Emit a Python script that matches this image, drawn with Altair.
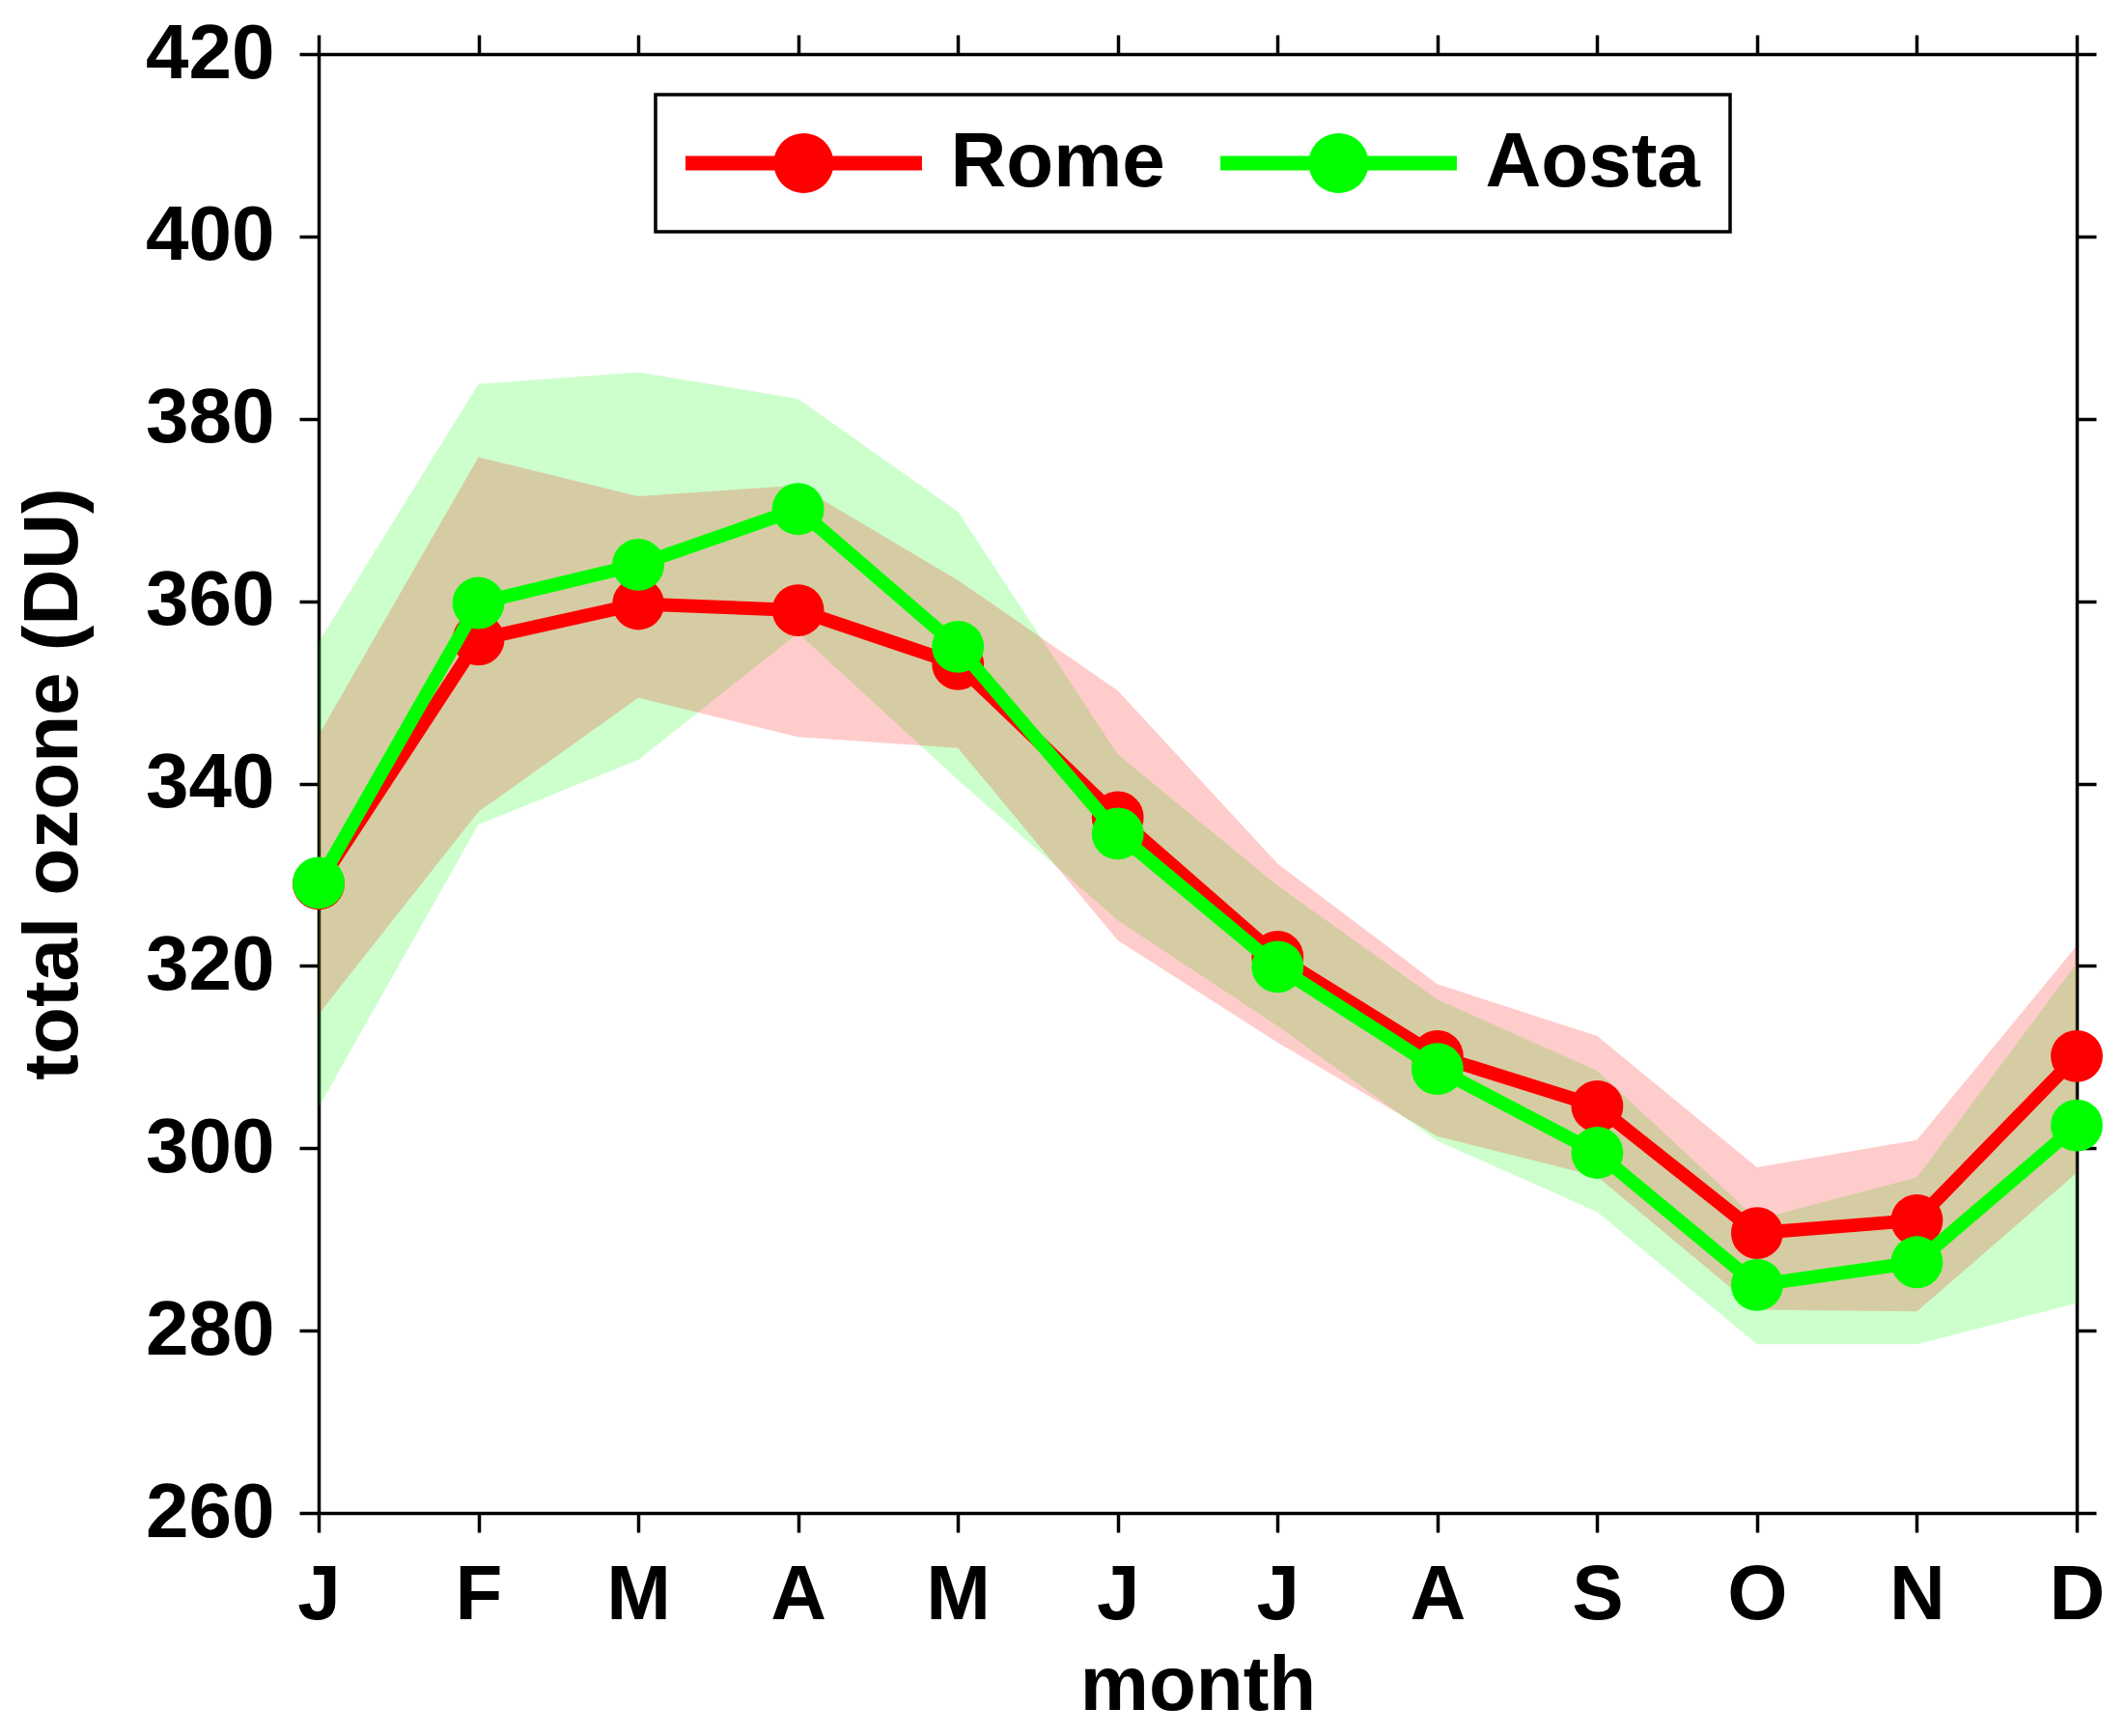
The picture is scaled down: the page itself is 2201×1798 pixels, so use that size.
import altair as alt
import pandas as pd

# ---------------- data ----------------
months = ['J', 'F', 'M', 'A', 'M', 'J', 'J', 'A', 'S', 'O', 'N', 'D']
month_num = list(range(1, 13))

rome_mean = [329.0, 355.8, 359.7, 359.0, 353.1, 336.3, 321.0, 310.1, 304.6, 290.7, 292.1, 310.1]
rome_low = [314.7, 336.9, 349.4, 345.1, 343.9, 322.8, 311.6, 301.3, 296.9, 282.3, 282.1, 297.3]
rome_high = [345.3, 375.8, 371.5, 372.7, 362.3, 350.2, 331.2, 318.0, 312.3, 297.9, 300.9, 322.2]

aosta_mean = [329.1, 359.8, 364.0, 370.1, 355.0, 334.5, 319.9, 308.7, 299.5, 285.0, 287.5, 302.5]
aosta_low = [304.5, 335.5, 342.6, 356.5, 340.4, 325.0, 313.4, 300.8, 293.0, 278.5, 278.5, 283.0]
aosta_high = [355.5, 383.8, 385.1, 382.2, 369.8, 343.2, 328.8, 316.3, 308.5, 292.2, 296.8, 320.3]

series_names = ['Rome', 'Aosta']
series_colors = ['#ff0000', '#00ff00']
y_ticks = [260, 280, 300, 320, 340, 360, 380, 400, 420]

df = pd.DataFrame({
    'month': month_num * 2,
    'series': [series_names[0]] * 12 + [series_names[1]] * 12,
    'mean': rome_mean + aosta_mean,
    'low': rome_low + aosta_low,
    'high': rome_high + aosta_high,
})

# ---------------- styling ----------------
FONT = 'Liberation Sans'
FS = 80
LW = 3.5

label_expr = '[' + ','.join("'%s'" % m for m in months) + '][datum.value - 1]'

x_scale = alt.Scale(domain=[1, 12], nice=False, zero=False)
y_scale = alt.Scale(domain=[260, 420], nice=False, zero=False)

x_axis_bottom = alt.Axis(orient='bottom', values=month_num, labelExpr=label_expr,
                         title='month', labelPadding=26, titlePadding=15,
                         labelFlush=False, labelOverlap=False)
y_axis_left = alt.Axis(orient='left', values=y_ticks, format='d',
                       title='total ozone (DU)', labelPadding=26, titlePadding=54,
                       labelFlush=False, labelOverlap=False)
x_axis_top = alt.Axis(orient='top', values=month_num, labels=False, title=None)
y_axis_right = alt.Axis(orient='right', values=y_ticks, labels=False, title=None)

# legend symbol: thick line with a filled circle in the middle
legend_path = 'M-3.95,-0.24H3.95V0.24H-3.95Z M1,0A1,1,0,1,1,-1,0A1,1,0,1,1,1,0Z'
legend = alt.Legend(title=None, orient='none', legendX=349, legendY=42,
                    direction='horizontal', columns=2,
                    symbolType=legend_path, symbolSize=3844, symbolStrokeWidth=0,
                    symbolOffset=82.5, labelOffset=112, columnPadding=57,
                    padding=31, strokeColor='black', symbolOpacity=1,
                    labelFont=FONT, labelFontSize=FS, labelFontWeight='bold',
                    labelColor='black', labelLimit=600)

color_enc = alt.Color('series:N', scale=alt.Scale(domain=series_names, range=series_colors),
                      legend=legend)

base = alt.Chart(df)


def band(name, color, with_axes):
    return base.transform_filter(alt.datum.series == name).mark_area(
        color=color, opacity=0.2
    ).encode(
        x=alt.X('month:Q', scale=x_scale, axis=x_axis_bottom if with_axes else None),
        y=alt.Y('low:Q', scale=y_scale, axis=y_axis_left if with_axes else None),
        y2='high:Q',
    )


def line(name, color):
    return base.transform_filter(alt.datum.series == name).mark_line(
        color=color, strokeWidth=14
    ).encode(
        x=alt.X('month:Q', scale=x_scale, axis=None),
        y=alt.Y('mean:Q', scale=y_scale, axis=None),
    )


def points(name):
    return base.transform_filter(alt.datum.series == name).mark_point(
        filled=True, shape='circle', size=2900, opacity=1
    ).encode(
        x=alt.X('month:Q', scale=x_scale, axis=None),
        y=alt.Y('mean:Q', scale=y_scale, axis=None),
        color=color_enc,
    )


frame = base.mark_point(opacity=0).encode(
    x=alt.X('month:Q', scale=x_scale, axis=x_axis_top),
    y=alt.Y('mean:Q', scale=y_scale, axis=y_axis_right),
)

chart = alt.layer(
    band('Aosta', series_colors[1], True),
    band('Rome', series_colors[0], False),
    line('Rome', series_colors[0]),
    points('Rome'),
    line('Aosta', series_colors[1]),
    points('Aosta'),
    frame,
).resolve_axis(
    x='independent', y='independent'
).properties(
    width=1821, height=1511,
    autosize=alt.AutoSizeParams(type='none'),
    padding={'left': 322, 'top': 48, 'right': 30, 'bottom': 223},
).configure(
    font=FONT
).configure_view(
    stroke=None
).configure_axis(
    grid=False,
    domainColor='black', domainWidth=LW,
    tickColor='black', tickWidth=LW, tickSize=20,
    labelFont=FONT, labelFontSize=FS, labelFontWeight='bold', labelColor='black',
    titleFont=FONT, titleFontSize=FS, titleFontWeight='bold', titleColor='black',
).configure_legend(
    strokeWidth=LW
)

chart.save('out.html', embed_options={'renderer': 'svg', 'actions': False})
